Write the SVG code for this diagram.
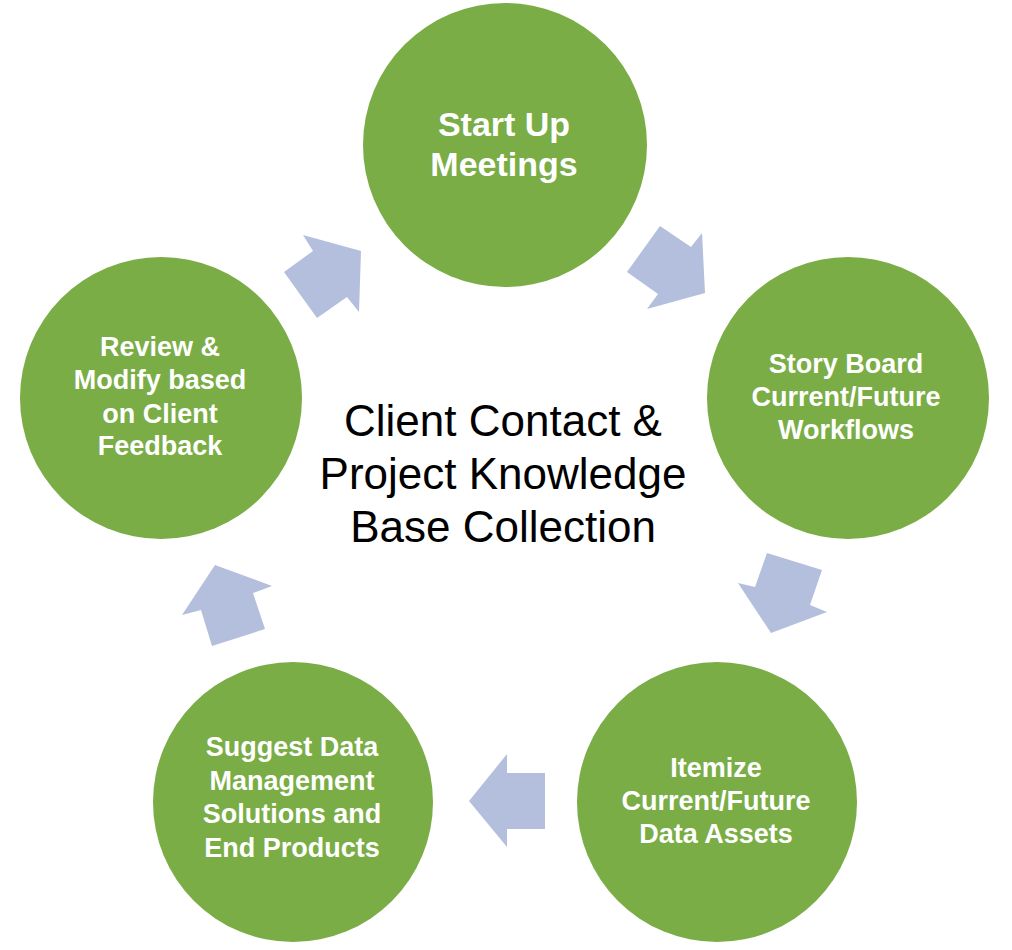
<svg xmlns="http://www.w3.org/2000/svg" width="1012" height="950" viewBox="0 0 1012 950">
<style>
.node circle{fill:#7AAD45}
.lbl{font-family:"Liberation Sans",Arial,sans-serif;font-weight:bold;fill:#ffffff;text-anchor:middle;font-size:27px}
.big{font-size:34px}
.center{font-family:"Liberation Sans",Arial,sans-serif;fill:#000000;text-anchor:middle;font-size:44px}
.arrow{fill:#B4BFDD}
</style>
<rect width="1012" height="950" fill="#ffffff"/>
<g id="connectors">
<polygon class="arrow" points="303,235 313,251 284,272 317,318 347,297 359,312 361,251"/>
<polygon class="arrow" points="660,226 691,247 702,233 705,293 647,309 658,294 627,272"/>
<polygon class="arrow" points="767,553 822,570 810,605 827,612 771,633 738,583 755,587"/>
<polygon class="arrow" points="507,754 507,773 545,773 545,829 507,829 507,847 469,801"/>
<polygon class="arrow" points="215,565 272,586 253,593 265,629 212,646 201,610 182,615"/>
</g>
<g id="node-startup" class="node">
<circle cx="505" cy="145" r="142"/>
<text class="lbl big" x="504" y="136">Start Up</text>
<text class="lbl big" x="504" y="176">Meetings</text>
</g>
<g id="node-storyboard" class="node">
<circle cx="848" cy="398" r="141"/>
<text class="lbl" x="846" y="373">Story Board</text>
<text class="lbl" x="846" y="406">Current/Future</text>
<text class="lbl" x="846" y="439">Workflows</text>
</g>
<g id="node-itemize" class="node">
<circle cx="717" cy="802" r="140"/>
<text class="lbl" x="716" y="777">Itemize</text>
<text class="lbl" x="716" y="810">Current/Future</text>
<text class="lbl" x="716" y="843">Data Assets</text>
</g>
<g id="node-suggest" class="node">
<circle cx="293" cy="802" r="140"/>
<text class="lbl" x="292" y="756">Suggest Data</text>
<text class="lbl" x="292" y="790">Management</text>
<text class="lbl" x="292" y="823">Solutions and</text>
<text class="lbl" x="292" y="857">End Products</text>
</g>
<g id="node-review" class="node">
<circle cx="161" cy="398" r="141"/>
<text class="lbl" x="160" y="356">Review &amp;</text>
<text class="lbl" x="160" y="389">Modify based</text>
<text class="lbl" x="160" y="423">on Client</text>
<text class="lbl" x="160" y="455">Feedback</text>
</g>
<g id="center-title">
<text class="center" x="503" y="436">Client Contact &amp;</text>
<text class="center" x="503" y="489">Project Knowledge</text>
<text class="center" x="503" y="542">Base Collection</text>
</g>
</svg>
